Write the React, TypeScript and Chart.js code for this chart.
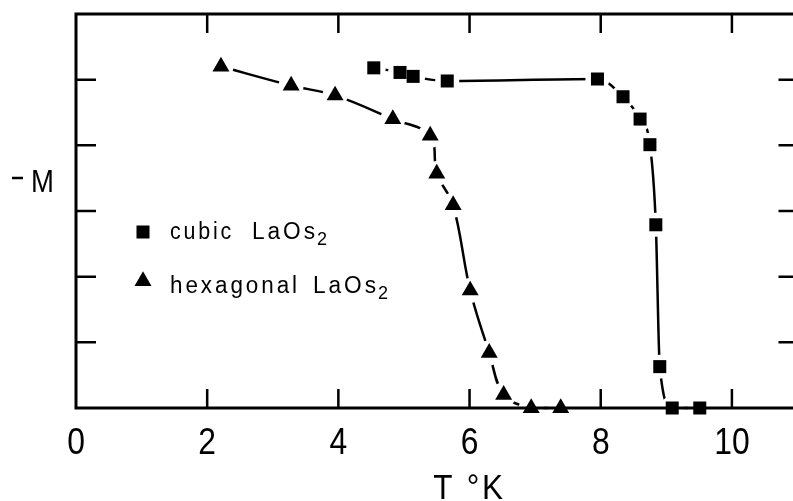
import React, { useEffect, useRef } from "react";
import { Chart, registerables } from "chart.js";

Chart.register(...registerables);

// cubic LaOs2 (squares)
const cubicT = [4.54, 4.94, 5.14, 5.66, 7.95, 8.34, 8.60, 8.75, 8.84, 8.90, 9.09, 9.51];
const cubicM = [5.18, 5.11, 5.05, 4.98, 5.01, 4.74, 4.40, 4.01, 2.79, 0.63, 0, 0];
// hexagonal LaOs2 (triangles)
const hexT = [2.21, 3.28, 3.95, 4.83, 5.40, 5.50, 5.75, 6.01, 6.30, 6.52, 6.94, 7.39];
const hexM = [5.20, 4.91, 4.76, 4.40, 4.15, 3.57, 3.09, 1.79, 0.84, 0.20, 0, 0];

const xTickValues = [0, 2, 4, 6, 8, 10];
const yTickValues = [1, 2, 3, 4, 5];
const xTitle = "T °K";
const yTitle = "M";
const legendNames = ["cubic", "hexagonal"];
const legendFormula = "LaOs";
const legendSub = "2";

const FONT = '"Liberation Sans", Arial, sans-serif';

const toPts = (xs: number[], ys: number[]) => xs.map((x, i) => ({ x, y: ys[i] }));

function squeezeText(ctx: CanvasRenderingContext2D, text: string, x: number, y: number, sx: number) {
  ctx.save();
  ctx.translate(x, y);
  ctx.scale(sx, 1);
  ctx.fillText(text, 0, 0);
  ctx.restore();
}

const framePlugin = {
  id: "frame",
  afterDraw(chart: any) {
    const { ctx, chartArea: a, scales } = chart;
    const xs = scales.x;
    const ys = scales.y;
    ctx.save();
    ctx.strokeStyle = "#000";
    ctx.fillStyle = "#000";
    ctx.lineWidth = 3;
    ctx.strokeRect(a.left, a.top, a.right - a.left, a.bottom - a.top);
    ctx.lineWidth = 2.5;
    ctx.beginPath();
    for (const v of xTickValues) {
      if (v <= xs.min || v >= xs.max) continue;
      const px = xs.getPixelForValue(v);
      ctx.moveTo(px, a.top);
      ctx.lineTo(px, a.top + 19);
      ctx.moveTo(px, a.bottom);
      ctx.lineTo(px, a.bottom - 19);
    }
    for (const v of yTickValues) {
      const py = ys.getPixelForValue(v);
      ctx.moveTo(a.left, py);
      ctx.lineTo(a.left + 20, py);
      ctx.moveTo(a.right, py);
      ctx.lineTo(a.right - 19, py);
    }
    ctx.stroke();

    // tick labels
    ctx.font = `37px ${FONT}`;
    ctx.textAlign = "center";
    ctx.textBaseline = "alphabetic";
    for (const v of xTickValues) {
      squeezeText(ctx, String(v), xs.getPixelForValue(v), a.bottom + 46, 0.86);
    }
    // x title
    ctx.font = `35px ${FONT}`;
    (ctx as any).letterSpacing = "3px";
    squeezeText(ctx, xTitle, xs.getPixelForValue(6), a.bottom + 91, 0.9);
    (ctx as any).letterSpacing = "0px";
    // y title "– M"
    ctx.lineWidth = 2.5;
    ctx.beginPath();
    ctx.moveTo(12, 178);
    ctx.lineTo(23, 178);
    ctx.stroke();
    ctx.font = `32px ${FONT}`;
    squeezeText(ctx, yTitle, 42.5, 192, 0.86);

    // legend
    const lx = 143;
    const rows = [232, 281];
    ctx.fillRect(lx - 6.5, rows[0] - 6.5, 13, 13);
    const r = 9.8;
    ctx.beginPath();
    ctx.moveTo(lx, rows[1] - r);
    ctx.lineTo(lx + r * 0.866, rows[1] + r / 2);
    ctx.lineTo(lx - r * 0.866, rows[1] + r / 2);
    ctx.closePath();
    ctx.fill();

    ctx.textAlign = "left";
    (ctx as any).letterSpacing = "3px";
    const baselines = [239, 293];
    const nameW = [64, 130];
    const formulaX = [252, 313];
    const formulaW = [66, 66];
    legendNames.forEach((name, i) => {
      ctx.font = `23px ${FONT}`;
      ctx.fillText(name, 170, baselines[i], nameW[i]);
      ctx.fillText(legendFormula, formulaX[i], baselines[i], formulaW[i]);
      const w = Math.min(ctx.measureText(legendFormula).width, formulaW[i]);
      ctx.font = `18px ${FONT}`;
      ctx.fillText(legendSub, formulaX[i] + w - 1, baselines[i] + 6);
    });
    (ctx as any).letterSpacing = "0px";
    ctx.restore();
  },
};

export default function App() {
  const ref = useRef<HTMLCanvasElement | null>(null);
  useEffect(() => {
    if (!ref.current) return;
    const cubic = toPts(cubicT, cubicM);
    const hex = toPts(hexT, hexM);
    const lineCommon = {
      showLine: true,
      borderColor: "#000",
      borderWidth: 2.5,
      pointRadius: 0,
      fill: false,
      clip: false,
    };
    const chart = new Chart(ref.current, {
      type: "scatter",
      data: {
        datasets: [
          {
            label: "cubic markers",
            data: cubic,
            showLine: false,
            pointStyle: "rect",
            pointRadius: 9.2,
            pointBackgroundColor: "#000",
            pointBorderWidth: 0,
            clip: false,
          },
          {
            label: "hexagonal markers",
            data: hex,
            showLine: false,
            pointStyle: "triangle",
            pointRadius: 9.8,
            pointBackgroundColor: "#000",
            pointBorderWidth: 0,
            clip: false,
          },
          {
            label: "cubic halo",
            data: cubic,
            showLine: false,
            pointStyle: "circle",
            pointRadius: 12,
            pointBackgroundColor: "#fff",
            pointBorderWidth: 0,
            clip: false,
          },
          {
            label: "hexagonal halo",
            data: hex,
            showLine: false,
            pointStyle: "circle",
            pointRadius: 12.5,
            pointBackgroundColor: "#fff",
            pointBorderWidth: 0,
            clip: false,
          },
          { label: "cubic line", data: cubic, ...lineCommon, cubicInterpolationMode: "monotone" },
          { label: "hexagonal line", data: hex, ...lineCommon, tension: 0.35 },
        ],
      } as any,
      options: {
        animation: false,
        responsive: false,
        events: [],
        layout: { padding: { top: 14, right: 12, left: 0, bottom: 0 } },
        plugins: { legend: { display: false }, tooltip: { enabled: false } },
        scales: {
          x: {
            type: "linear",
            min: 0,
            max: 11,
            ticks: { display: false, stepSize: 2 },
            grid: { display: false },
            border: { display: false },
            afterFit: (s: any) => {
              s.height = 93;
            },
          },
          y: {
            type: "linear",
            min: 0,
            max: 6,
            ticks: { display: false, stepSize: 1 },
            grid: { display: false },
            border: { display: false },
            afterFit: (s: any) => {
              s.width = 76;
            },
          },
        },
      } as any,
      plugins: [framePlugin],
    });
    return () => chart.destroy();
  }, []);
  return (
    <div
      style={{
        position: "fixed",
        left: 0,
        top: 0,
        width: 793,
        height: 501,
        overflow: "hidden",
        background: "#fff",
      }}
    >
      <canvas ref={ref} width={810} height={501} style={{ display: "block" }} />
    </div>
  );
}
